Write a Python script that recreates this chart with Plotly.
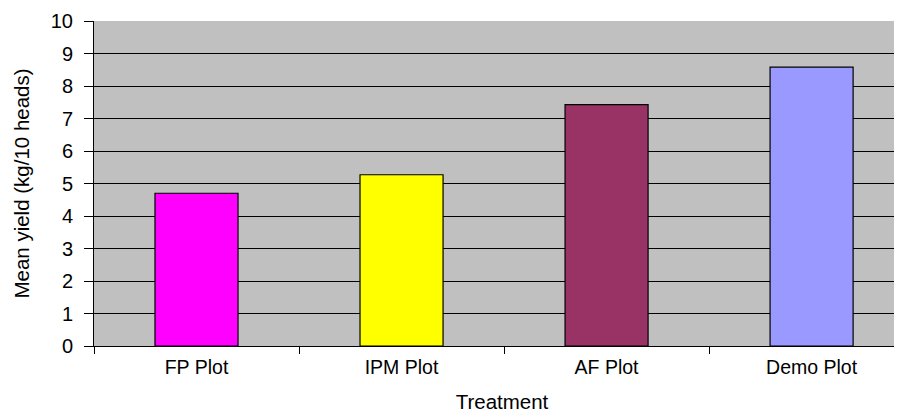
import plotly.graph_objects as go

categories = ["FP Plot", "IPM Plot", "AF Plot", "Demo Plot"]
mean_yield = [4.7, 5.27, 7.43, 8.58]
bar_colors = ["#FF00FF", "#FFFF00", "#993366", "#9999FF"]
y_ticks = list(range(0, 11))

fig = go.Figure()
fig.add_trace(go.Bar(
    x=categories,
    y=mean_yield,
    marker=dict(color=bar_colors, line=dict(color="#000000", width=1.2)),
    width=0.405,
))

font = dict(family="Liberation Sans, Arial, sans-serif", size=20, color="#000000")

# page body has an 8px offset; margins compensate so the plot area sits at x 94..(cropped), y 21..346
fig.update_layout(
    width=902, height=415,
    margin=dict(l=86, r=0, t=13, b=77),
    paper_bgcolor="#FFFFFF",
    plot_bgcolor="#C0C0C0",
    font=font,
    showlegend=False,
)
fig.update_xaxes(
    type="category",
    range=[-0.5, 3.48],
    tickson="boundaries",
    automargin=False,
    ticks="outside", ticklen=7, tickcolor="#000000", tickwidth=1,
    showgrid=False,
    showline=True, linecolor="#000000", linewidth=1,
    tickfont=dict(size=19.5),
    ticklabelstandoff=4,
    title=dict(text="Treatment", font=dict(size=20.5), standoff=17),
    zeroline=False,
)
fig.update_yaxes(
    range=[0, 10],
    tickvals=y_ticks,
    automargin=False,
    ticks="outside", ticklen=9, tickcolor="#000000", tickwidth=1,
    showgrid=True, gridcolor="#000000", gridwidth=1,
    showline=True, linecolor="#000000", linewidth=1,
    zeroline=False,
    tickfont=dict(size=20),
    ticklabelstandoff=7,
    title=dict(text="Mean yield (kg/10 heads)", font=dict(size=20.5), standoff=15),
)

fig.write_html("out.html")
